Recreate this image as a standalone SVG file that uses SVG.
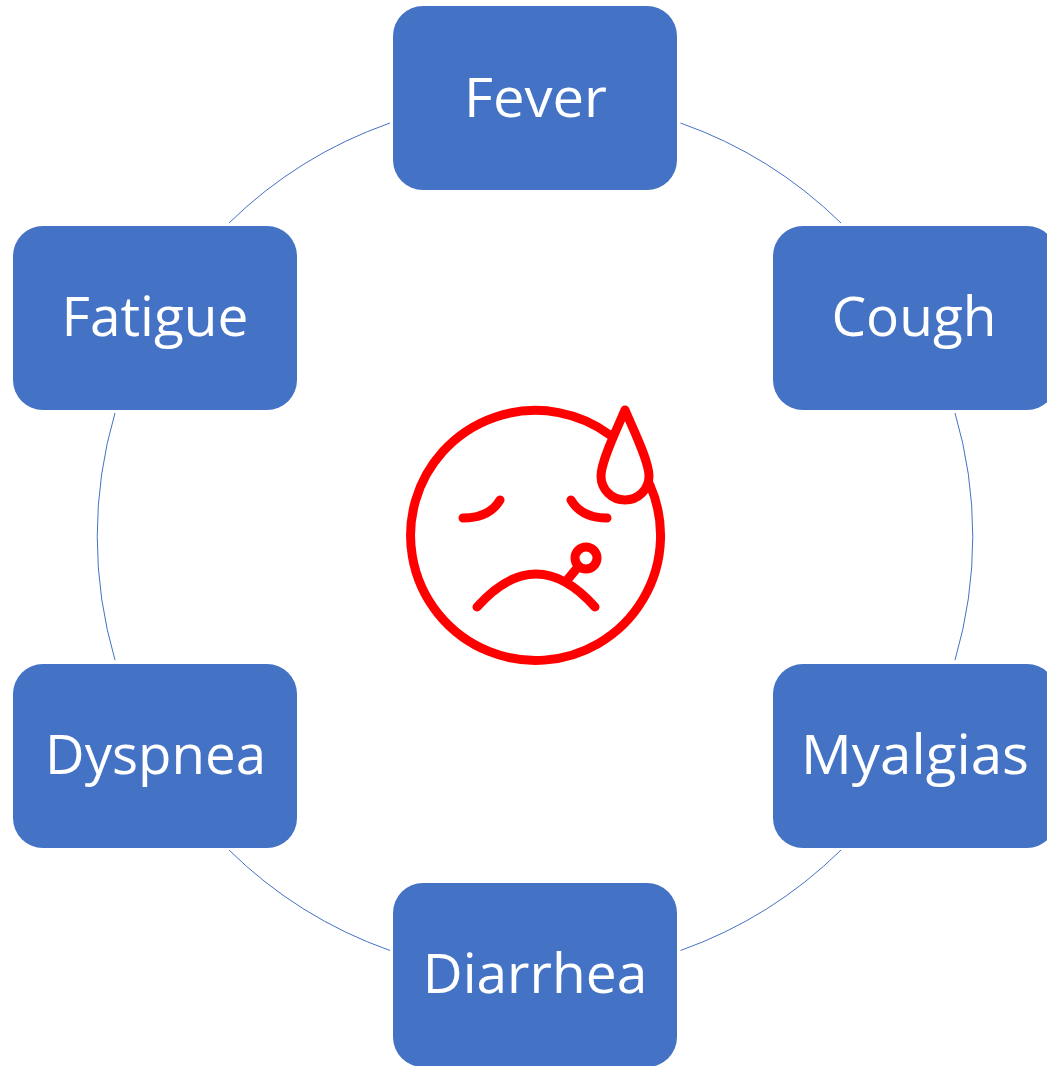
<svg xmlns="http://www.w3.org/2000/svg" width="1047" height="1066" viewBox="0 0 1047 1066">
<style>
.box{fill:#4472c4}
.lbl{fill:#fff;font-family:"Open Sans","Noto Sans",sans-serif;font-size:55px;text-anchor:middle}
.arc{fill:none;stroke:#4472c4;stroke-width:1}
.ic{fill:none;stroke:#f00;stroke-width:9;stroke-linecap:round;stroke-linejoin:round}
</style>
<rect width="1047" height="1066" fill="#fff"/>
<g id="connectors">
<path class="arc" d="M680.5 123A438 438 0 0 1 841 223"/>
<path class="arc" d="M955 413A438 438 0 0 1 955 660"/>
<path class="arc" d="M841 850A438 438 0 0 1 680.500 950.500"/>
<path class="arc" d="M390 950.500A438 438 0 0 1 229 850"/>
<path class="arc" d="M115 660A438 438 0 0 1 115 413"/>
<path class="arc" d="M229 223A438 438 0 0 1 390 123"/>
</g>
<g id="fever"><rect class="box" x="393" y="6" width="284" height="184" rx="30"/><text class="lbl" x="535.500" y="117" textLength="143" lengthAdjust="spacingAndGlyphs">Fever</text></g>
<g id="cough"><rect class="box" x="773" y="226" width="284" height="184" rx="30"/><text class="lbl" x="914" y="336">Cough</text></g>
<g id="myalgias"><rect class="box" x="773" y="664" width="284" height="184" rx="30"/><text class="lbl" x="915" y="774" textLength="228" lengthAdjust="spacingAndGlyphs">Myalgias</text></g>
<g id="diarrhea"><rect class="box" x="393" y="883" width="284" height="184" rx="30"/><text class="lbl" x="535" y="993">Diarrhea</text></g>
<g id="dyspnea"><rect class="box" x="13" y="664" width="284" height="184" rx="30"/><text class="lbl" x="155.500" y="774" textLength="221" lengthAdjust="spacingAndGlyphs">Dyspnea</text></g>
<g id="fatigue"><rect class="box" x="13" y="226" width="284" height="184" rx="30"/><text class="lbl" x="155" y="336">Fatigue</text></g>
<g id="sick-face">
<path class="ic" d="M610 435A125 125 0 1 0 649.500 484"/>
<path class="ic" d="M625 410C633 429 649 461 649 476A24 24 0 0 1 601 476C601 461 617 429 625 410Z"/>
<path class="ic" d="M463 518C481 518 493 512 500 500"/>
<path class="ic" d="M571 500C578 512 590 518 607 518"/>
<path class="ic" d="M477 607C493 589 513 574 536 574C559 574 579 589 595 607"/>
<circle class="ic" cx="586" cy="558" r="11"/>
<path class="ic" d="M578 567L568 579"/>
</g>
</svg>
